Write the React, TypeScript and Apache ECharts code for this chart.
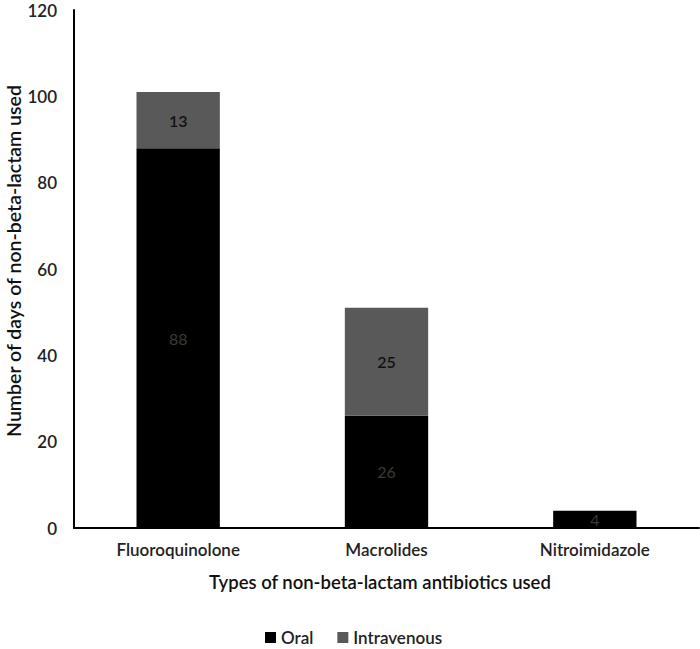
import React, { useEffect, useRef } from "react";
import * as echarts from "echarts";

const categories = ["Fluoroquinolone", "Macrolides", "Nitroimidazole"];
const oral = [88, 26, 4];
const intravenous = [13, 25, 0];
const yTicks = { min: 0, max: 120, interval: 20 };
const xTitle = "Types of non-beta-lactam antibiotics used";
const yTitle = "Number of days of non-beta-lactam used";

export default function App() {
  const ref = useRef<HTMLDivElement>(null);
  useEffect(() => {
    if (!ref.current) return;
    const chart = echarts.init(ref.current, null, { renderer: "svg" });
    const font = "Lato, 'Open Sans', sans-serif";
    chart.setOption({
      animation: false,
      textStyle: { fontFamily: font },
      grid: { left: 74, right: 1, top: 10, bottom: 121, outerBoundsMode: "none", containLabel: false },
      legend: {
        top: 624,
        left: 260,
        itemWidth: 11,
        itemHeight: 11,
        itemGap: 24,
        icon: "rect",
        textStyle: { fontSize: 17, fontFamily: font, fontWeight: 600, color: "#222" },
        data: ["Oral", "Intravenous"],
      },
      graphic: [
        {
          type: "text",
          x: 380,
          y: 582,
          style: {
            text: xTitle,
            fontSize: 18.5,
            fontWeight: 600,
            fill: "#111",
            fontFamily: font,
            align: "center",
            verticalAlign: "middle",
          },
        },
        {
          type: "text",
          x: 13,
          y: 261,
          rotation: Math.PI / 2,
          style: {
            text: yTitle,
            fontSize: 19.5,
            fontWeight: 600,
            fill: "#111",
            fontFamily: font,
            align: "center",
            verticalAlign: "middle",
          },
        },
      ],
      xAxis: {
        type: "category",
        data: categories,
        axisLine: { lineStyle: { color: "#000", width: 2 } },
        axisTick: { show: false },
        axisLabel: { fontSize: 17, fontWeight: 600, color: "#222", margin: 13, fontFamily: font },
      },
      yAxis: {
        type: "value",
        min: yTicks.min,
        max: yTicks.max,
        interval: yTicks.interval,
        axisLine: { show: true, lineStyle: { color: "#000", width: 2 } },
        axisTick: { show: false },
        splitLine: { show: false },
        axisLabel: { fontSize: 17, fontWeight: 600, color: "#222", margin: 17, fontFamily: font },
      },
      series: [
        {
          name: "Oral",
          type: "bar",
          stack: "total",
          barWidth: "40%",
          data: oral,
          itemStyle: { color: "#000" },
          label: {
            show: true,
            position: "inside",
            color: "#3a3a3a",
            fontSize: 16,
            fontFamily: font,
          },
        },
        {
          name: "Intravenous",
          type: "bar",
          stack: "total",
          barWidth: "40%",
          data: intravenous,
          itemStyle: { color: "#595959" },
          label: {
            show: true,
            position: "inside",
            color: "#111",
            fontSize: 16,
            fontWeight: 600,
            fontFamily: font,
            formatter: (p: any) => (p.value ? String(p.value) : ""),
          },
        },
      ],
    });
    return () => chart.dispose();
  }, []);
  return (
    <div
      ref={ref}
      style={{ position: "absolute", left: 0, top: 0, width: 700, height: 649 }}
    />
  );
}
